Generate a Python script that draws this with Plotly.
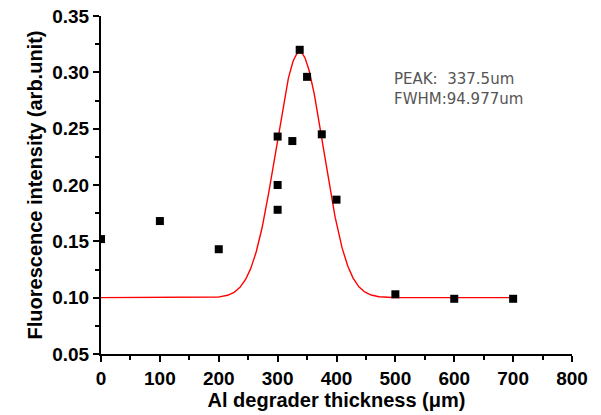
import numpy as np
import plotly.graph_objects as go

# Measured data
thickness = [0, 100, 200, 300, 300, 300, 325, 337.5, 350, 375, 400, 500, 600, 700]
intensity = [0.152, 0.168, 0.143, 0.243, 0.200, 0.178, 0.239, 0.320, 0.296, 0.245, 0.187, 0.103, 0.099, 0.099]

# Gaussian fit parameters (from annotation)
peak_um = 337.5
fwhm_um = 94.977
baseline = 0.100
amplitude = 0.218

x_ticks = [0, 100, 200, 300, 400, 500, 600, 700, 800]
y_ticks = [0.05, 0.10, 0.15, 0.20, 0.25, 0.30, 0.35]

sigma = fwhm_um / (2 * np.sqrt(2 * np.log(2)))
xf = np.linspace(0, 700, 701)
yf = baseline + amplitude * np.exp(-0.5 * ((xf - peak_um) / sigma) ** 2)

fig = go.Figure()
fig.add_trace(go.Scatter(x=xf, y=yf, mode="lines",
                         line=dict(color="#ff0000", width=1.4), hoverinfo="skip"))
fig.add_trace(go.Scatter(x=thickness, y=intensity, mode="markers",
                         marker=dict(symbol="square", size=8, color="black")))

axis_font = dict(family="Liberation Sans, Arial, sans-serif", size=20, color="black")
fig.update_layout(
    width=601, height=415,
    margin=dict(l=101, r=29, t=16, b=61),
    paper_bgcolor="white", plot_bgcolor="white",
    showlegend=False,
    font=dict(family="Liberation Sans, Arial, sans-serif", color="black"),
    xaxis=dict(
        range=[0, 800], tickvals=x_ticks, ticktext=[str(v) for v in x_ticks],
        showgrid=False, zeroline=False, showline=True, linecolor="black", linewidth=2,
        ticks="outside", ticklen=6, tickwidth=2, tickcolor="black",
        minor=dict(ticks="outside", ticklen=4, tickwidth=1.5, tickcolor="black", dtick=50, tick0=0, showgrid=False),
        tickfont=dict(family="Liberation Sans, Arial, sans-serif", size=19, color="black", weight="bold"),
        title=dict(text="<b>Al degrader thickness (μm)</b>", font=axis_font, standoff=2),
        automargin=False,
    ),
    yaxis=dict(
        range=[0.05, 0.35], tickvals=y_ticks, ticktext=["%.2f" % v for v in y_ticks],
        showgrid=False, zeroline=False, showline=True, linecolor="black", linewidth=2,
        ticks="outside", ticklen=6, tickwidth=2, tickcolor="black",
        minor=dict(ticks="outside", ticklen=4, tickwidth=1.5, tickcolor="black", dtick=0.025, tick0=0.05, showgrid=False),
        tickfont=dict(family="Liberation Sans, Arial, sans-serif", size=19, color="black", weight="bold"),
        title=dict(text="<b>Fluorescence intensity (arb.unit)</b>", font=axis_font, standoff=4),
        automargin=False,
    ),
    annotations=[
        dict(x=494, y=0.294, xref="x", yref="y", xanchor="left", yanchor="middle",
             text="PEAK:&nbsp;&nbsp;337.5um", showarrow=False,
             font=dict(family="DejaVu Sans, sans-serif", size=15, color="#555555")),
        dict(x=494, y=0.276, xref="x", yref="y", xanchor="left", yanchor="middle",
             text="FWHM:94.977um", showarrow=False,
             font=dict(family="DejaVu Sans, sans-serif", size=15, color="#555555")),
    ],
)

fig.write_html("out.html")
